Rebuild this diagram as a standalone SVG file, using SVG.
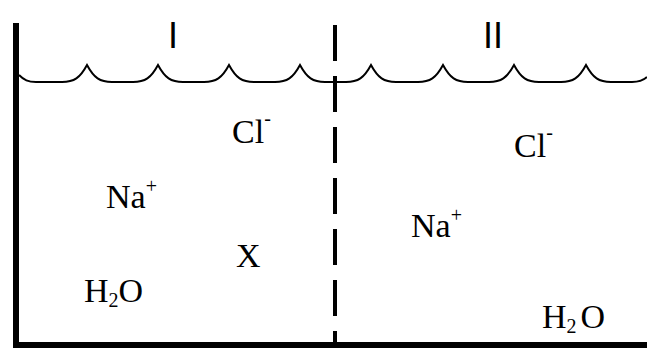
<svg xmlns="http://www.w3.org/2000/svg" width="647" height="349" viewBox="0 0 647 349">
<style>
.chem{font-family:"Liberation Serif","Times New Roman",serif;font-size:34px;fill:#000}
.sup{font-size:20px}
.lab{font-family:"Liberation Sans",Arial,sans-serif;font-size:36px;fill:#000}
.wall{stroke:#000;stroke-width:6;fill:none}
.water{stroke:#000;stroke-width:2;fill:none}
.membrane{stroke:#000;stroke-width:4;fill:none;stroke-dasharray:36 15}
</style>
<rect width="647" height="349" fill="#fff"/>
<g id="container">
<path class="wall" d="M16,23 V345 H647"/>
</g>
<g id="water">
<path class="water" d="M19,75 C24,80 28,82 36,82 L62,82 C74,82 80,78 87,65 C94,78 100,82 112,82 L133,82 C145,82 151,78 158,65 C165,78 171,82 183,82 L204,82 C216,82 222,78 229,65 C236,78 242,82 254,82 L275,82 C287,82 293,78 300,65 C307,78 313,82 325,82 L346,82 C358,82 364,78 371,65 C378,78 384,82 396,82 L418,82 C430,82 436,78 443,65 C450,78 456,82 468,82 L489,82 C501,82 507,78 514,65 C521,78 527,82 539,82 L561,82 C573,82 579,78 586,65 C593,78 599,82 611,82 L632,82 C640,82 644,80 647,77"/>
</g>
<g id="membrane">
<line class="membrane" x1="335" y1="25" x2="335" y2="345"/>
</g>
<g id="label-I"><text class="lab" x="168" y="48">I</text></g>
<g id="label-II"><text class="lab" x="483" y="48">II</text></g>
<g id="left-Cl"><text class="chem" x="232" y="143">Cl<tspan class="sup" dy="-18">-</tspan></text></g>
<g id="left-Na"><text class="chem" x="106" y="208">Na<tspan class="sup" dy="-15">+</tspan></text></g>
<g id="left-X"><text class="chem" x="236" y="267">X</text></g>
<g id="left-H2O"><text class="chem" x="84" y="302">H<tspan class="sup" dy="5">2</tspan><tspan dy="-5">O</tspan></text></g>
<g id="right-Cl"><text class="chem" x="514" y="157">Cl<tspan class="sup" dy="-18">-</tspan></text></g>
<g id="right-Na"><text class="chem" x="411" y="237">Na<tspan class="sup" dy="-15">+</tspan></text></g>
<g id="right-H2O"><text class="chem" x="542" y="328">H<tspan class="sup" dy="5">2</tspan><tspan dy="-5" dx="4">O</tspan></text></g>
</svg>
